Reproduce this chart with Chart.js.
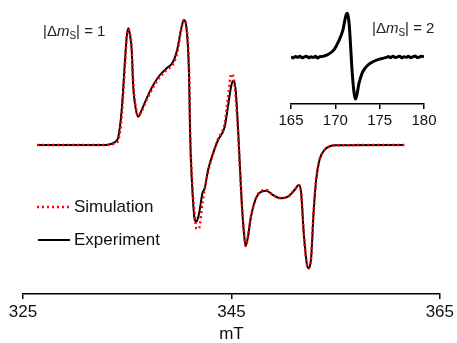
<!DOCTYPE html>
<html>
<head>
<meta charset="utf-8">
<script src="https://cdn.jsdelivr.net/npm/chart.js@4.4.0/dist/chart.umd.min.js"></script>
<style>
  body { margin: 0; background: #fff; }
  #wrap { position: relative; width: 457px; height: 343px; }
  #mainChart { position: absolute; left: 0; top: 0; }
  #insetChart { position: absolute; left: 270px; top: 0; }
</style>
</head>
<body>
<div id="wrap">
  <canvas id="mainChart" width="457" height="343"></canvas>
  <canvas id="insetChart" width="180" height="140"></canvas>
</div>
<script>
// main spectrum, |dms| = 1 region (mT)
var fieldMT = [326.37, 332.88, 333.45, 333.83, 334.15, 334.47, 334.79, 334.95, 335.11, 335.27,
  335.43, 335.58, 335.84, 336.06, 336.39, 336.87, 337.50, 338.14, 338.78, 339.41,
  339.79, 340.22, 340.44, 340.69, 340.94, 341.04, 341.27, 341.49, 341.65, 341.90,
  342.22, 342.44, 342.76, 343.24, 343.72, 344.36, 344.67, 345.00, 345.22, 345.41,
  345.63, 345.96, 346.18, 346.37, 346.59, 346.82, 347.23, 347.71, 348.35, 348.98,
  349.78, 350.42, 351.06, 351.47, 351.70, 351.92, 352.23, 352.43, 352.66, 352.88,
  353.13, 353.45, 353.93, 354.41, 354.98, 361.58];

var experiment = [0, 0, 1, 3, 8.3, 35, 85, 108, 116.7, 110,
  95, 58.3, 35, 28.3, 35, 46.7, 60, 70, 76.7, 83.3,
  95, 118.3, 125, 116.7, 68.3, 10, -48, -75, -76.7, -68.3,
  -48.3, -43.3, -25, -8.3, 5, 18.3, 38.3, 60, 64.3, 55,
  18.3, -51.7, -85, -101, -91.7, -75, -56.7, -47.7, -45.7, -50,
  -53.3, -51.7, -45, -40, -48.3, -85, -118.3, -123.3, -111.7, -68.3,
  -35, -15, -5, -1.5, -0.3, 0];

var simulation = [0, 0, 0.5, 1.5, 5, 28, 80, 107, 116, 111,
  97, 62, 37, 29, 34, 45, 58, 68, 75, 81,
  92, 117, 125, 118, 72, 14, -44, -70, -84, -83,
  -58, -44, -27, -9, 6, 22, 47, 71, 67, 48,
  14, -52, -85, -101, -92, -75, -57, -47, -45, -50,
  -53, -51.7, -45, -40, -48.3, -85, -118.3, -123.3, -111.7, -68.3,
  -35, -15, -5, -1.5, -0.3, 0];

var mainTicks = [325, 345, 365];

// inset, |dms| = 2 region (mT)
var insetField = [165, 165.25, 165.5, 165.75, 166, 166.25, 166.5, 166.75, 167, 167.25,
  167.5, 167.75, 168, 168.25, 168.5, 168.75, 169, 169.42, 169.9, 170.35,
  170.85, 171.05, 171.22, 171.37, 171.5, 171.59, 171.75, 171.86, 172.04, 172.15,
  172.27, 172.4, 172.49, 172.65, 172.8, 173.05, 173.36, 173.8, 174.29, 174.8,
  175.42, 175.75, 176, 176.25, 176.5, 176.75, 177, 177.25, 177.5, 177.75,
  178, 178.25, 178.5, 178.75, 179, 179.25, 179.5, 179.75, 180];

var insetSignal = [0.3, -0.8, 0.6, -0.2, 1.0, -0.6, 0.2, 0.9, -0.7, 0.4,
  -0.3, 0.8, -0.9, 0.5, 0.6, 1.2, 2, 4, 8, 15.6,
  27, 36, 42.5, 44, 38, 30, 7, -10, -30, -38,
  -42, -39, -35, -27, -22, -15.5, -11, -7, -4.4, -2.5,
  -1, -0.3, 0.6, -0.5, 0.8, -0.4, 0.3, 1.0, -0.7, 0.5,
  -0.2, 0.9, -0.6, 0.4, 1.1, -0.5, 0.2, 0.8, 0.3];

var insetTicks = [165, 170, 175, 180];

Chart.defaults.font.family = '"Liberation Sans", Arial, sans-serif';
Chart.defaults.color = '#111';

function toPoints(xs, ys) {
  var pts = [];
  for (var i = 0; i < xs.length; i++) {
    pts.push({x: xs[i], y: ys[i]});
  }
  return pts;
}

// |Δm_S| = n with italic m and subscript S
function drawDeltaLabel(ctx, x, y, n) {
  ctx.textBaseline = 'middle';
  ctx.textAlign = 'left';
  ctx.fillStyle = '#222';
  ctx.font = '15px "Liberation Sans", Arial';
  ctx.fillText('|\u0394', x, y);
  x += ctx.measureText('|\u0394').width;
  ctx.font = 'italic 15px "Liberation Sans", Arial';
  ctx.fillText('m', x, y);
  x += ctx.measureText('m').width;
  ctx.font = '10px "Liberation Sans", Arial';
  ctx.fillText('S', x, y + 4);
  x += ctx.measureText('S').width;
  ctx.font = '15px "Liberation Sans", Arial';
  ctx.fillText('| = ' + n, x, y);
}

var overlayPlugin = {
  id: 'overlay',
  afterDraw: function(chart) {
    var ctx = chart.ctx;
    ctx.save();
    // legend
    ctx.lineWidth = 2.5;
    ctx.strokeStyle = '#ff0000';
    ctx.setLineDash([2, 3]);
    ctx.beginPath();
    ctx.moveTo(37, 207);
    ctx.lineTo(69, 207);
    ctx.stroke();
    ctx.setLineDash([]);
    ctx.lineWidth = 2;
    ctx.strokeStyle = '#000';
    ctx.beginPath();
    ctx.moveTo(38, 240);
    ctx.lineTo(70, 240);
    ctx.stroke();
    ctx.fillStyle = '#111';
    ctx.font = '17px "Liberation Sans", Arial';
    ctx.textBaseline = 'middle';
    ctx.fillText('Simulation', 74, 207);
    ctx.fillText('Experiment', 74, 240);
    // annotations
    drawDeltaLabel(ctx, 43, 32, 1);
    drawDeltaLabel(ctx, 372, 29, 2);
    ctx.restore();
  }
};

function axisOptions(min, max, step, ticks, fontSize, height, title) {
  return {
    type: 'linear',
    min: min,
    max: max,
    afterBuildTicks: function(scale) {
      scale.ticks = ticks.map(function(v) { return {value: v}; });
    },
    afterFit: function(scale) { scale.height = height; },
    grid: {display: true, drawOnChartArea: false, drawTicks: true, tickLength: 5, color: '#000', lineWidth: 1.5},
    border: {display: true, color: '#000', width: 1.5},
    ticks: {font: {size: fontSize}, color: '#111', padding: 3, maxRotation: 0, autoSkip: false},
    title: title
  };
}

var mainChart = new Chart(document.getElementById('mainChart'), {
  type: 'line',
  data: {
    datasets: [{
      label: 'Simulation',
      data: toPoints(fieldMT, simulation),
      borderColor: '#ff0000',
      borderWidth: 2.5,
      borderDash: [2, 3],
      pointRadius: 0,
      cubicInterpolationMode: 'monotone'
    }, {
      label: 'Experiment',
      data: toPoints(fieldMT, experiment),
      borderColor: '#000',
      borderWidth: 2,
      pointRadius: 0,
      cubicInterpolationMode: 'monotone'
    }]
  },
  options: {
    responsive: false,
    animation: false,
    layout: {padding: {left: 23, right: 16, top: 10, bottom: 0}},
    plugins: {legend: {display: false}, tooltip: {enabled: false}},
    scales: {
      x: axisOptions(325, 365, 20, mainTicks, 17, 49,
        {display: true, text: 'mT', font: {size: 17, lineHeight: 1}, color: '#111', padding: {top: 0, bottom: 0}}),
      y: {display: false, min: -149, max: 135}
    }
  },
  plugins: [overlayPlugin]
});

var insetChart = new Chart(document.getElementById('insetChart'), {
  type: 'line',
  data: {
    datasets: [{
      label: '|\u0394mS| = 2',
      data: toPoints(insetField, insetSignal),
      borderColor: '#000',
      borderWidth: 3,
      pointRadius: 0,
      cubicInterpolationMode: 'monotone'
    }]
  },
  options: {
    responsive: false,
    animation: false,
    layout: {padding: {left: 21, right: 26, top: 5, bottom: 0}},
    plugins: {legend: {display: false}, tooltip: {enabled: false}},
    scales: {
      x: axisOptions(165, 180, 5, insetTicks, 15, 36, {display: false}),
      y: {display: false, min: -47, max: 52.3}
    }
  }
});
</script>
</body>
</html>
